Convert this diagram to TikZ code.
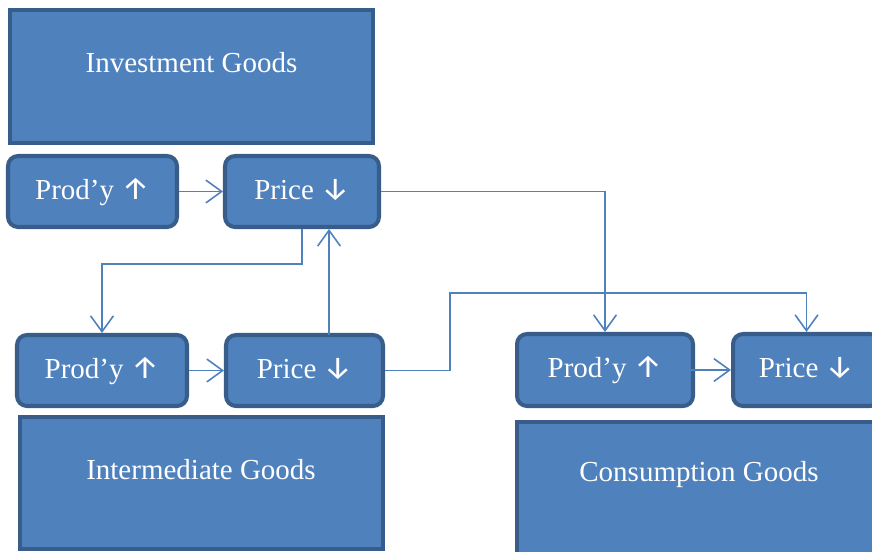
\documentclass[tikz,border=0pt]{standalone}
\usepackage{fontspec}
\setmainfont{Liberation Serif}
\newfontfamily\arrowfont{Fira Sans}
\usetikzlibrary{arrows.meta}
\definecolor{boxfill}{HTML}{4F81BD}
\definecolor{boxline}{HTML}{385D8A}
\newcommand{\uparr}{{\arrowfont\fontsize{18}{20}\selectfont ↑}}
\newcommand{\downarr}{{\arrowfont\fontsize{18}{20}\selectfont ↓}}
\begin{document}
\begin{tikzpicture}[x=0.02cm, y=-0.02cm,
	goods/.style={rectangle, draw=boxline, fill=boxfill, line width=2.3pt, inner sep=0pt},
	effect/.style={rectangle, rounded corners=0.2cm, draw=boxline, fill=boxfill, line width=2.3pt, inner sep=0pt, minimum height=1.42cm, text height=12.6pt, text depth=4pt, text=white, font=\fontsize{16.5}{20}\selectfont},
	goodsname/.style={text=white, font=\fontsize{16.5}{20}\selectfont},
	link/.style={draw=boxfill, line width=0.9pt, -{Straight Barb[length=9pt,width=13pt]}}]
	\useasboundingbox (0, 0) rectangle (872, 551);
	\clip (0, 0) rectangle (872, 551);
	% sectors
	\node[goods, minimum width=7.26cm, minimum height=2.66cm] (inv) at (191.5, 76.5) {};
	\node[goods, minimum width=7.26cm, minimum height=2.64cm] (inter) at (201.5, 483) {};
	\node[goods, minimum width=7.66cm, minimum height=3.16cm] (cons) at (708.5, 501) {};
	\node[goodsname] (invtxt) at (191.5, 63) {Investment Goods};
	\node[goodsname] (intertxt) at (201, 470) {Intermediate Goods};
	\node[goodsname] (constxt) at (699, 475) {Consumption Goods};
	% productivity and price boxes
	\node[effect, minimum width=3.38cm] (prodA) at (92.5, 191.5) {Prod’y \uparr};
	\node[effect, minimum width=3.08cm] (priceA) at (302, 191.5) {Price \downarr};
	\node[effect, minimum width=3.40cm] (prodB) at (102, 370.5) {Prod’y \uparr};
	\node[effect, minimum width=3.14cm] (priceB) at (304.5, 370.5) {Price \downarr};
	\node[effect, minimum width=3.52cm, minimum height=1.44cm] (prodC) at (605, 370) {Prod’y \uparr};
	\node[effect, minimum width=2.94cm, minimum height=1.44cm] (priceC) at (806.5, 370) {Price \downarr};
	\coordinate (bendA) at (102, 264);
	\coordinate (bendB) at (450, 293);
	\coordinate (upB) at (329, 335);
	\draw[link] (prodA.east) to (priceA.west);
	\draw[link] (priceA.east) -| (prodC.north);
	\draw[link] (priceA.south) |- (bendA) to (prodB.north);
	\draw[link] (upB) to (upB |- priceA.south);
	\draw[link] (prodB.east) to (priceB.west);
	\draw[link] (priceB.east) -| (bendB) -| (priceC.north);
	\draw[link] ([xshift=-11pt]prodC.east) to (priceC.west);
\end{tikzpicture}
\end{document}
